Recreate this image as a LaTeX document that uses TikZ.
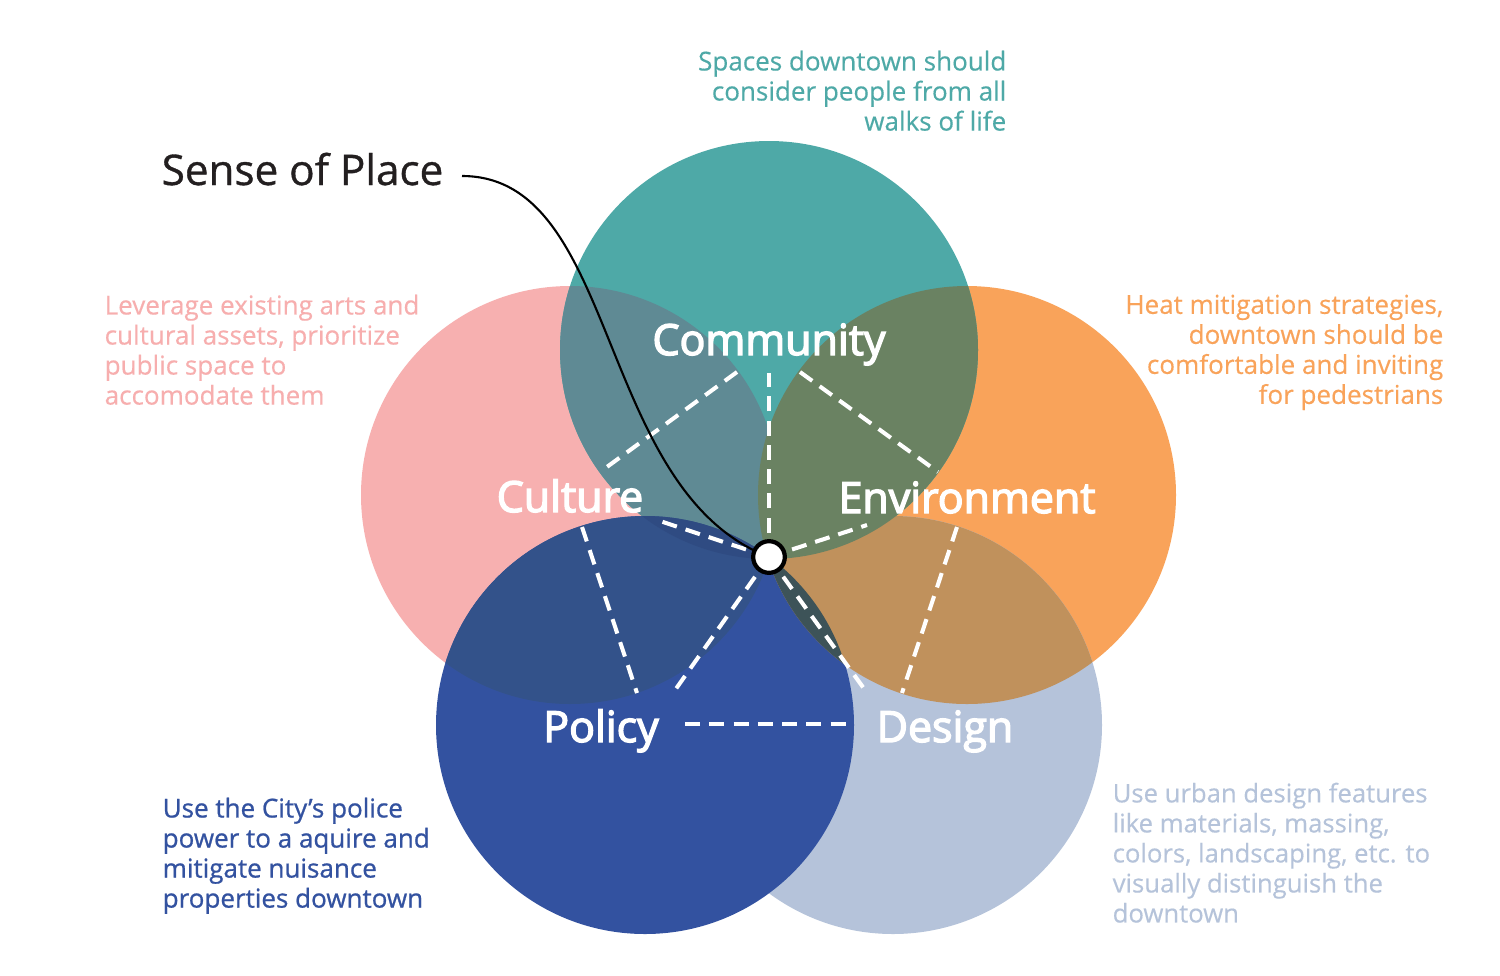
\documentclass[tikz,border=0pt]{standalone}
\usepackage{fontspec}
\setmainfont{Open Sans}
\newfontfamily\labelfont{Open Sans}[FakeBold=3.2]
\newfontfamily\medfont{Open Sans}[FakeBold=0.8]
\newfontfamily\bodyfont{Open Sans}[FakeBold=0.3]
\definecolor{cteal}{HTML}{4EA9A7}
\definecolor{cpink}{HTML}{F7B0B0}
\definecolor{corange}{HTML}{F9A35A}
\definecolor{clight}{HTML}{B5C3DA}
\definecolor{cblue}{HTML}{3352A0}
\definecolor{cmcu}{HTML}{5F8A94}
\definecolor{cmen}{HTML}{6A8262}
\definecolor{cupo}{HTML}{33528A}
\definecolor{ende}{HTML}{C0915C}
\definecolor{poen}{HTML}{3D5358}
\definecolor{cmpo}{HTML}{2F4B82}
\definecolor{ctextdark}{HTML}{231F20}
\definecolor{cpinktext}{HTML}{F7AEAE}
\tikzset{
  dline/.style={white, line width=1.15pt, dash pattern=on 4.3pt off 2.6pt},
  bodytext/.style={font=\fontsize{7.4}{8.54}\selectfont\bodyfont, inner sep=0pt},
  labeltext/.style={font=\fontsize{12.2}{14}\selectfont\labelfont, text=white, inner sep=0pt, anchor=base},
}
\begin{document}
\begin{tikzpicture}[x=0.01cm,y=-0.01cm]
\useasboundingbox (0,0) rectangle (1500,975);
\fill[white] (0,0) rectangle (1500,975);
\coordinate (Cm) at (769,350);
\coordinate (Cu) at (570,495);
\coordinate (En) at (967,495);
\coordinate (Po) at (645,725);
\coordinate (De) at (893,725);
\coordinate (O) at (769,557);
% base circles
\fill[cpink] (Cu) circle[radius=209];
\fill[corange] (En) circle[radius=209];
\fill[clight] (De) circle[radius=209];
\fill[cteal] (Cm) circle[radius=209];
\fill[cblue] (Po) circle[radius=209];
% overlaps
\begin{scope}\clip (Cm) circle[radius=209]; \fill[cmcu] (Cu) circle[radius=209];\end{scope}
\begin{scope}\clip (Cu) circle[radius=209]; \fill[cupo] (Po) circle[radius=209];\end{scope}
\begin{scope}\clip (Cm) circle[radius=209]; \clip (Po) circle[radius=209]; \fill[cmpo] (Cu) circle[radius=209];\end{scope}
\begin{scope}\clip (En) circle[radius=209]; \fill[ende] (De) circle[radius=209];\end{scope}
\begin{scope}\clip (Po) circle[radius=209]; \fill[poen] (En) circle[radius=209];\end{scope}
\begin{scope}\clip (Cm) circle[radius=209]; \fill[cmen] (En) circle[radius=209];\end{scope}
% label nodes
\node[labeltext] (community) at (769,355) {Community};
\node[labeltext] (culture) at (570,512) {Culture};
\node[labeltext] (environment) at (967,513) {Environment};
\node[labeltext] (policy) at (601,742) {Policy};
\node[labeltext] (design) at (945,742) {Design};
% dashed pentagon edges and spokes
\coordinate (a1) at (737,372); \coordinate (a2) at (600,472);
\coordinate (b1) at (800,372); \coordinate (b2) at (938,472);
\coordinate (c1) at (582,527); \coordinate (c2) at (637,693);
\coordinate (d1) at (957,527); \coordinate (d2) at (902,693);
\coordinate (e1) at (685,724); \coordinate (e2) at (853,724);
\coordinate (sCm) at (769,373);
\coordinate (sCu) at (660,521);
\coordinate (sEn) at (867,525);
\coordinate (sPo) at (673,693);
\coordinate (sDe) at (865,690);
\draw[dline] (a1) -- (a2);
\draw[dline] (b1) -- (b2);
\draw[dline] (c1) -- (c2);
\draw[dline] (d1) -- (d2);
\draw[dline] (e1) -- (e2);
\draw[dline] (O) -- (sCm);
\draw[dline] (O) -- (sCu);
\draw[dline] (O) -- (sEn);
\draw[dline] (O) -- (sPo);
\draw[dline] (O) -- (sDe);
% sense of place
\node[font=\fontsize{12}{14}\selectfont\medfont, text=ctextdark, inner sep=0pt, anchor=base east] (sop) at (444,185) {Sense of Place};
\coordinate (s0) at (462,176);
\draw[black, line width=0.6pt] (s0) .. controls (620,176) and (595,490) .. (O);
\node[circle, draw=black, fill=white, line width=1.2pt, minimum size=9pt, inner sep=0pt] (dot) at (O) {};
% descriptions
\node[bodytext, text=cteal, align=right, anchor=north east] (tcm) at (1007,50) {Spaces downtown should\\consider people from all\\walks of life};
\node[bodytext, text=cpinktext, align=left, anchor=north west] (tcu) at (104,294) {Leverage existing arts and\\cultural assets, prioritize\\public space to\\accomodate them};
\node[bodytext, text=corange, align=right, anchor=north east] (ten) at (1444,294) {Heat mitigation strategies,\\downtown should be\\comfortable and inviting\\for pedestrians};
\node[bodytext, text=cblue, align=left, anchor=north west, font=\fontsize{7.4}{8.54}\selectfont\medfont] (tpo) at (162,797) {Use the City’s police\\power to a aquire and\\mitigate nuisance\\properties downtown};
\node[bodytext, text=clight, align=left, anchor=north west, font=\fontsize{7.3}{8.54}\selectfont\bodyfont] (tde) at (1112,782) {Use urban design features\\like materials, massing,\\colors, landscaping, etc. to\\visually distinguish the\\downtown};
\end{tikzpicture}
\end{document}
